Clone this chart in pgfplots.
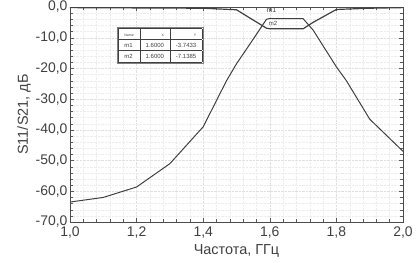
\documentclass[border=0pt]{standalone}
\usepackage{pgfplots}
\pgfplotsset{compat=1.18}
\usepackage{fontspec}
\setmainfont{Liberation Sans}
\begin{document}
\begin{tikzpicture}[x=1bp,y=1bp]
\begin{axis}[
  scale only axis, width=333bp, height=215bp,
  at={(0,0)}, anchor=south west,
  xmin=1.0, xmax=2.0, ymin=-70, ymax=0,
  xtick={1.0,1.2,...,2.0}, ytick={-70,-60,...,0},
  minor x tick num=4, minor y tick num=4,
  grid=both,
  major grid style={draw=gray!25, densely dotted},
  minor grid style={draw=gray!14, densely dotted},
  tick style={gray!70!black, thin},
  axis line style={gray!60!black, thin},
  tick align=inside,
  /pgf/number format/assume math mode=true,
  /pgf/number format/.cd, fixed, fixed zerofill, precision=1, use comma,
  /pgfplots/.cd,
  ticklabel style={font=\fontsize{14}{14}\selectfont, text=black!75},
  xticklabel style={yshift=-1.5bp},
  yticklabel style={xshift=1bp},
  xlabel={Частота, ГГц}, ylabel={S11/S21, дБ},
  label style={font=\fontsize{14.5}{14.5}\selectfont, text=black!75},
  xlabel style={yshift=1bp},
  ylabel style={yshift=-2bp},
  clip=false,
]
% S11
\addplot[black!75, line width=1.2pt] coordinates {
 (1.0,-0.2) (1.2,-0.3) (1.4,-0.4) (1.5,-0.9) (1.59,-6.9) (1.6,-7.1) (1.7,-7.1) (1.73,-5) (1.8,-0.8) (1.9,-0.4) (2.0,-0.2)};
% S21
\addplot[black!75, line width=1.0pt] coordinates {
 (1.0,-63.5) (1.1,-62) (1.2,-58.6) (1.3,-51) (1.4,-39) (1.47,-24) (1.5,-18.5) (1.55,-10.5) (1.59,-4.0) (1.6,-3.74) (1.7,-3.8) (1.73,-7.5) (1.8,-19.5) (1.83,-24) (1.9,-36.5) (2.0,-47)};
\node[font=\fontsize{7}{7}\selectfont, inner sep=0.5pt, text=black!75] at (axis cs:1.605,-1.0) {m1};
\node[font=\fontsize{6}{6}\selectfont, inner sep=0.5pt, text=black!75] at (axis cs:1.61,-5.2) {m2};
\node[anchor=north west, draw=gray, fill=white, inner sep=1pt, text=black!75] at (axis cs:1.142,-6.5) {%
 \renewcommand{\arraystretch}{0.9}%
 \begin{tabular}{@{}|l|r|r|@{}}\hline
 \fontsize{3.5}{4}\selectfont Name & \fontsize{3.5}{4}\selectfont X & \fontsize{3.5}{4}\selectfont Y\\\hline
 \fontsize{6}{6.5}\selectfont m1 & \fontsize{6}{6.5}\selectfont 1.6000 & \fontsize{6}{6.5}\selectfont -3.7433\\\hline
 \fontsize{6}{6.5}\selectfont m2 & \fontsize{6}{6.5}\selectfont 1.6000 & \fontsize{6}{6.5}\selectfont -7.1385\\\hline
 \end{tabular}};
\end{axis}
\pgfresetboundingbox
\path[use as bounding box] (-70,-41) rectangle (346,222);
\end{tikzpicture}
\end{document}
